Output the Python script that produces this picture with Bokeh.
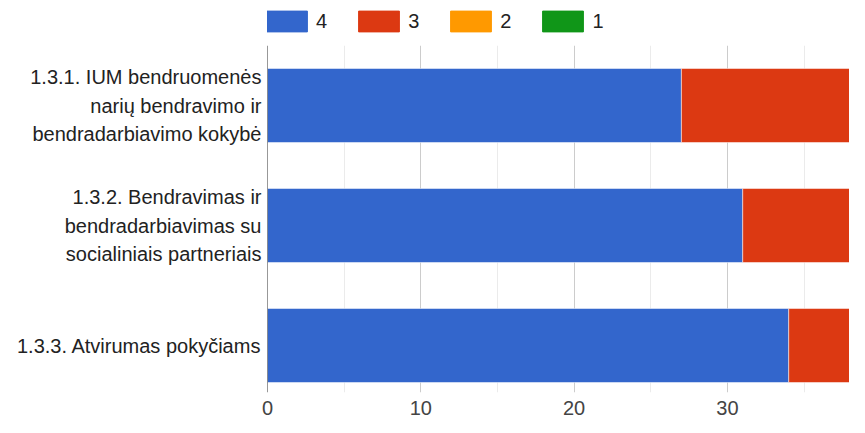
from bokeh.plotting import figure
from bokeh.layouts import column
from bokeh.models import Range1d, FixedTicker, Span, Legend, LegendItem, ColumnDataSource
from bokeh.embed import file_html
from bokeh.resources import INLINE

categories = [
    "1.3.1. IUM bendruomenės\nnarių bendravimo ir\nbendradarbiavimo kokybė",
    "1.3.2. Bendravimas ir\nbendradarbiavimas su\nsocialiniais partneriais",
    "1.3.3. Atvirumas pokyčiams",
]
series_names = ["4", "3", "2", "1"]
v4 = [27, 31, 34]
v3 = [12, 8, 5]
v2 = [0, 0, 0]
v1 = [0, 0, 0]
colors = ["#3366cc", "#dc3912", "#ff9900", "#109618"]
x_ticks = [0, 10, 20, 30]
x_minor = [5, 15, 25, 35]

FONT = "Liberation Sans"
W = 849
LEG_H = 45
H = 417 - LEG_H
LEFT, BOTTOM = 267, 25
FRAME_H = H - BOTTOM
FRAME_W = W - LEFT
PX_PER_UNIT = 15.33
PX_PER_BAND = 120.0

n = len(categories)
ypos = [n - i - 0.5 for i in range(n)]
src = ColumnDataSource(dict(y=ypos, s4=v4, s3=v3, s2=v2, s1=v1))

# ---- legend strip (its frame is aligned with the main chart's frame) ----
lg = figure(width=W, height=LEG_H, x_range=Range1d(0, 1), y_range=Range1d(0, 1),
            min_border=0, output_backend="svg", toolbar_location=None)
lg.axis.visible = False
lg.grid.visible = False
lg.outline_line_color = None
dummies = [lg.vbar(x=[-5], top=[-5], bottom=[-6], width=0.1, color=c) for c in colors]
items = [LegendItem(label=nm, renderers=[r]) for nm, r in zip(series_names, dummies)]
legend = Legend(items=items, orientation="horizontal",
                location=(-6, LEG_H - 8 - 26),
                glyph_width=51, glyph_height=26, label_standoff=4, label_width=11,
                spacing=26, padding=0, margin=0, border_line_color=None,
                background_fill_alpha=0,
                label_text_font=FONT, label_text_font_size="20px",
                label_text_color="#222222")
lg.add_layout(legend, "center")

# ---- main chart ----
p = figure(
    y_range=Range1d(n - FRAME_H / PX_PER_BAND, n),
    x_range=Range1d(0, FRAME_W / PX_PER_UNIT),
    width=W, height=H,
    min_border_left=LEFT, min_border_right=0,
    min_border_top=0, min_border_bottom=BOTTOM,
    output_backend="svg", toolbar_location=None,
)
p.outline_line_color = None

stackers = ["s4", "s3", "s2", "s1"]
p.hbar_stack(stackers, y="y", height=0.617, color=colors,
             line_color="white", line_width=1, line_alpha=0.5, source=src)

p.xaxis.ticker = FixedTicker(ticks=x_ticks, minor_ticks=x_minor)
p.xgrid.ticker = FixedTicker(ticks=x_ticks, minor_ticks=x_minor)
p.xaxis.axis_line_color = None
p.xaxis.major_tick_line_color = None
p.xaxis.minor_tick_line_color = None
p.xaxis.major_label_text_font = FONT
p.xaxis.major_label_text_font_size = "20px"
p.xaxis.major_label_text_color = "#444444"
p.xaxis.major_label_standoff = 2

p.xgrid.grid_line_color = "#cccccc"
p.xgrid.minor_grid_line_color = "#ebebeb"
p.ygrid.grid_line_color = None

p.yaxis.ticker = FixedTicker(ticks=ypos)
p.yaxis.major_label_overrides = {y: c for y, c in zip(ypos, categories)}
p.yaxis.axis_line_color = None
p.yaxis.major_tick_line_color = None
p.yaxis.minor_tick_line_color = None
p.yaxis.major_label_text_font = FONT
p.yaxis.major_label_text_font_size = "20px"
p.yaxis.major_label_text_color = "#222222"
p.yaxis.major_label_text_line_height = 1.3
p.yaxis.major_label_standoff = 0

p.add_layout(Span(location=0, dimension="height", line_color="#333333", line_width=1))

layout = column(lg, p, spacing=0)
open("out.html", "w").write(file_html(layout, INLINE))
